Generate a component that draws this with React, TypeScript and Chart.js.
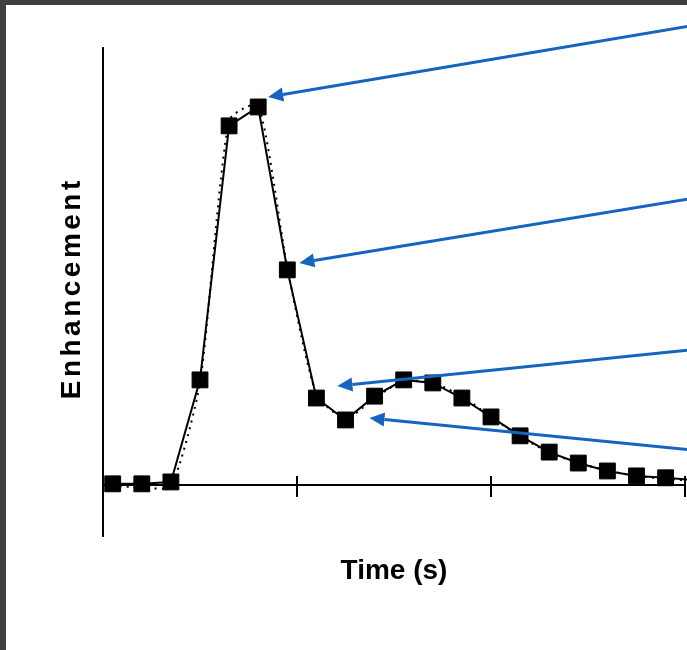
import React, { useEffect, useRef } from 'react';
import { Chart, registerables } from 'chart.js';

Chart.register(...registerables);

// ---- data ----
const times = [1, 4, 7, 10, 13, 16, 19, 22, 25, 28, 31, 34, 37, 40, 43, 46, 49, 52, 55, 58, 61];
const measured = [0.3, 0.3, 0.8, 27.8, 95.0, 100.0, 56.9, 23.0, 17.2, 23.5, 27.8, 27.0, 23.0, 18.0, 13.0, 8.7, 5.8, 3.7, 2.4, 1.9, 1.3];
const fitted = [-0.3, -0.6, -0.4, 27.0, 96.5, 100.5, 57.5, 24.0, 17.5, 23.0, 27.5, 27.0, 23.5, 18.0, 12.8, 8.6, 5.8, 3.8, 2.4, 1.6, 1.1];
const xTickStep = 20;
const xMin = 0;
const xMax = 60;
const yMin = -13.5;
const yMax = 115.6;
const xTitle = 'Time (s)';
const yTitle = 'Enhancement';

// annotation arrows: index of the pointed data point, value-height of the arrow start at the right edge
const arrowTargets = [5, 6, 7, 8];
const arrowStartValues = [121.4, 75.7, 35.7, 9.3];

const FONT = 'Liberation Sans, Arial, Helvetica, sans-serif';
const ARROW_COLOR = '#1565c0';
const arrowTipOffsets = [
  [10, -10],
  [12, -7],
  [21, -12],
  [24, -2],
];

const axisTicksPlugin = {
  id: 'axisTicks',
  beforeDatasetsDraw(chart: any) {
    const xs = chart.scales.x0;
    const ys = chart.scales.y;
    const ctx = chart.ctx;
    const y0 = ys.getPixelForValue(0);
    ctx.save();
    ctx.strokeStyle = '#000';
    ctx.lineWidth = 2;
    xs.ticks.forEach((t: any) => {
      if (t.value <= xMin) return;
      const x = Math.round(xs.getPixelForValue(t.value));
      ctx.beginPath();
      ctx.moveTo(x, y0 - 9);
      ctx.lineTo(x, y0 + 12);
      ctx.stroke();
    });
    ctx.restore();
  },
};

const arrowsPlugin = {
  id: 'arrows',
  afterDatasetsDraw(chart: any) {
    const ctx = chart.ctx;
    const meta = chart.getDatasetMeta(1);
    const ys = chart.scales.y;
    ctx.save();
    arrowTargets.forEach((idx, i) => {
      const pt = meta.data[idx];
      const tx = pt.x + arrowTipOffsets[i][0];
      const ty = pt.y + arrowTipOffsets[i][1];
      const sx = chart.width + 2;
      const sy = ys.getPixelForValue(arrowStartValues[i]);
      const ang = Math.atan2(sy - ty, sx - tx);
      const headLen = 15;
      const headHalf = 7;
      const bx = tx + Math.cos(ang) * headLen;
      const by = ty + Math.sin(ang) * headLen;
      ctx.strokeStyle = ARROW_COLOR;
      ctx.fillStyle = ARROW_COLOR;
      ctx.lineWidth = 3;
      ctx.beginPath();
      ctx.moveTo(sx, sy);
      ctx.lineTo(bx, by);
      ctx.stroke();
      ctx.beginPath();
      ctx.moveTo(tx, ty);
      ctx.lineTo(bx - Math.sin(ang) * headHalf, by + Math.cos(ang) * headHalf);
      ctx.lineTo(bx + Math.sin(ang) * headHalf, by - Math.cos(ang) * headHalf);
      ctx.closePath();
      ctx.fill();
    });
    ctx.restore();
  },
};

const yTitlePlugin = {
  id: 'yTitle',
  afterDraw(chart: any) {
    const ctx = chart.ctx;
    const area = chart.chartArea;
    const spacing = 3.5;
    ctx.save();
    ctx.translate(area.left - 31, (area.top + area.bottom) / 2 - 2);
    ctx.rotate(-Math.PI / 2);
    ctx.font = `bold 28px ${FONT}`;
    (ctx as any).letterSpacing = `${spacing}px`;
    ctx.fillStyle = '#000';
    ctx.textAlign = 'center';
    ctx.textBaseline = 'middle';
    ctx.fillText(yTitle, spacing / 2, 0);
    ctx.restore();
  },
};

export default function App() {
  const ref = useRef<HTMLCanvasElement | null>(null);

  useEffect(() => {
    if (!ref.current) return;
    const chart = new Chart(ref.current, {
      type: 'line',
      data: {
        datasets: [
          {
            label: 'fit',
            data: times.map((t, i) => ({ x: t, y: fitted[i] })),
            borderColor: '#000',
            borderWidth: 2,
            borderDash: [2, 5],
            tension: 0.2,
            pointRadius: 0,
            clip: false as any,
            xAxisID: 'x',
            yAxisID: 'y',
          },
          {
            label: 'measured',
            data: times.map((t, i) => ({ x: t, y: measured[i] })),
            borderColor: '#000',
            borderWidth: 2,
            tension: 0,
            pointStyle: 'rect',
            pointRadius: times.map((t) => (t > xMax ? 0 : 11.2)),
            pointBorderWidth: 1,
            pointBackgroundColor: '#000',
            pointBorderColor: '#000',
            clip: false as any,
            xAxisID: 'x',
            yAxisID: 'y',
          },
        ],
      },
      options: {
        responsive: false,
        animation: false,
        layout: { autoPadding: false, padding: { left: 97, right: 2, top: 43, bottom: 62.4 } },
        plugins: { legend: { display: false }, tooltip: { enabled: false } },
        scales: {
          x: {
            type: 'linear',
            min: xMin,
            max: xMax,
            position: 'bottom',
            border: { display: false },
            grid: { display: false, drawTicks: false },
            ticks: { display: false },
            title: {
              display: true,
              text: xTitle,
              color: '#000',
              font: { family: FONT, size: 28, weight: 'bold' },
              padding: { top: 18, bottom: 0 },
            },
          },
          x0: {
            type: 'linear',
            min: xMin,
            max: xMax,
            position: { y: 0 } as any,
            border: { display: true, color: '#000', width: 2 },
            grid: { display: false, drawTicks: false },
            ticks: { display: false, stepSize: xTickStep },
          },
          y: {
            type: 'linear',
            min: yMin,
            max: yMax,
            position: 'left',
            border: { display: true, color: '#000', width: 2 },
            grid: { display: false, drawTicks: false },
            ticks: { display: false },
          },
        },
      } as any,
      plugins: [axisTicksPlugin, arrowsPlugin, yTitlePlugin],
    });
    return () => chart.destroy();
  }, []);

  return (
    <div style={{ position: 'absolute', left: 0, top: 0, width: 687, height: 650, background: '#3f3f3f', overflow: 'hidden' }}>
      <div style={{ position: 'absolute', left: 6, top: 5, width: 681, height: 645, background: '#fff' }}>
        <canvas ref={ref} width={681} height={645} style={{ display: 'block' }} />
      </div>
    </div>
  );
}
